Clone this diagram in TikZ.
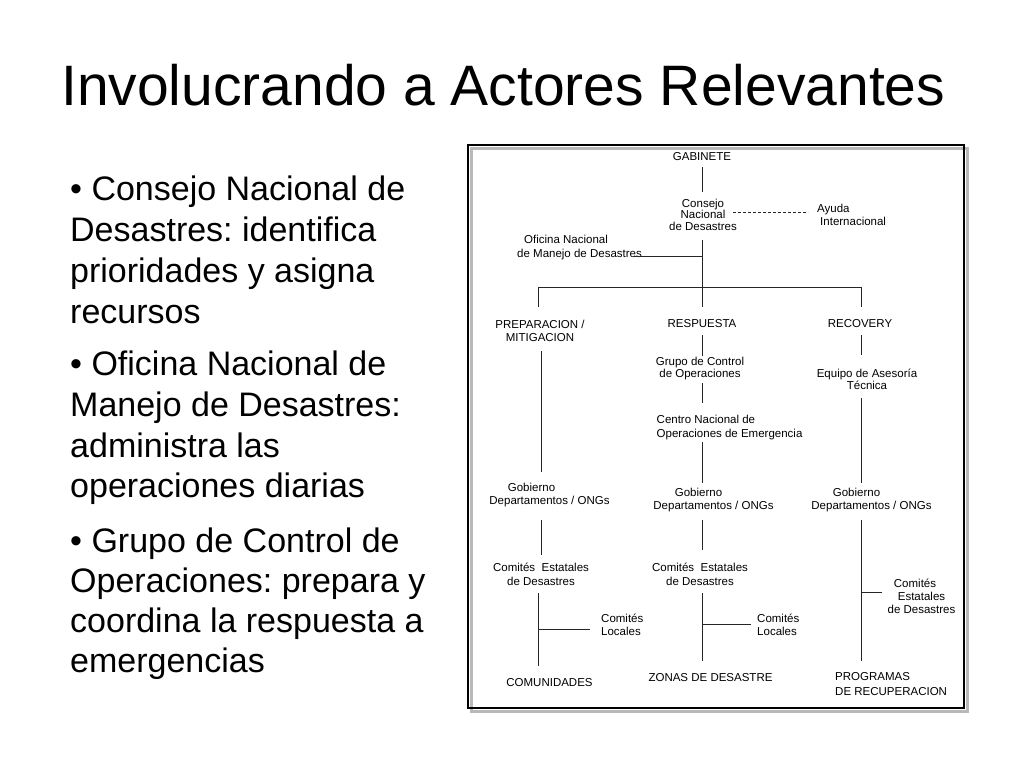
\documentclass[tikz,border=0pt]{standalone}
\usepackage{fontspec}
\setmainfont{Liberation Sans}
\frenchspacing
\begin{document}
\begin{tikzpicture}[x=1pt,y=-1pt,
  ttl/.style={anchor=base west,inner sep=0pt,font=\fontsize{57}{68}\selectfont},
  btxt/.style={anchor=base west,inner sep=0pt,font=\fontsize{34}{41}\selectfont},
  lbl/.style={inner sep=0pt,align=center,font=\fontsize{11.5}{13}\selectfont},
  lbll/.style={inner sep=0pt,align=left,anchor=west,font=\fontsize{11.5}{13}\selectfont},
  conn/.style={draw=black!85,line width=0.9pt},
  dconn/.style={draw=black!85,line width=0.9pt,dash pattern=on 3pt off 2pt}]
\useasboundingbox (0,0) rectangle (1024,768);
\fill[white] (0,0) rectangle (1024,768);

% title
\node[ttl] (title) at (61,105) {Involucrando a Actores Relevantes};

% bullets
\node[btxt] (b1a) at (70,200) {• Consejo Nacional de};
\node[btxt] (b1b) at (70,241) {Desastres: identifica};
\node[btxt] (b1c) at (70,282) {prioridades y asigna};
\node[btxt] (b1d) at (70,323) {recursos};
\node[btxt] (b2a) at (70,375) {• Oficina Nacional de};
\node[btxt] (b2b) at (70,416) {Manejo de Desastres:};
\node[btxt] (b2c) at (70,457) {administra las};
\node[btxt] (b2d) at (70,497) {operaciones diarias};
\node[btxt] (b3a) at (70,552) {• Grupo de Control de};
\node[btxt] (b3b) at (70,592) {Operaciones: prepara y};
\node[btxt] (b3c) at (70,632) {coordina la respuesta a};
\node[btxt] (b3d) at (70,672) {emergencias};

% frame
\draw[gray!55,line width=3pt] (471,148) rectangle (967,711);
\draw[black,line width=2pt] (468,145) rectangle (964,708);

% labels
\node[lbl] (gab) at (702,157) {GABINETE};
\node[lbl,font=\fontsize{11.5}{11.5}\selectfont] (cons) at (703,214.5) {Consejo\\Nacional\\de Desastres};
\node[lbll] (ayuda) at (817,215) {Ayuda\\\hspace*{3pt}Internacional};
\node[lbll,font=\fontsize{11.5}{14}\selectfont] (ofi) at (517,248) {\hspace*{7pt}Oficina Nacional\\de Manejo de Desastres};
\node[lbl] (prep) at (540,330.5) {PREPARACION /\\MITIGACION};
\node[lbl] (resp) at (702,324) {RESPUESTA};
\node[lbl] (recov) at (860,324) {RECOVERY};
\node[lbl,font=\fontsize{11.5}{11.5}\selectfont] (grupo) at (700,368.5) {Grupo de Control\\de Operaciones};
\node[lbll,font=\fontsize{11.5}{14}\selectfont] (centro) at (656.5,428) {Centro Nacional de\\Operaciones de Emergencia};
\node[lbl,font=\fontsize{11.5}{12}\selectfont] (equipo) at (867,379) {Equipo de Asesoría\\Técnica};
\node[lbl] (gob1) at (549.5,495.5) {Gobierno\hspace*{36pt}\\Departamentos / ONGs};
\node[lbl] (gob2) at (713.5,500.5) {Gobierno\hspace*{30pt}\\Departamentos / ONGs};
\node[lbl] (gob3) at (871.5,500.5) {Gobierno\hspace*{30pt}\\Departamentos / ONGs};
\node[lbl,font=\fontsize{11.5}{14}\selectfont] (ce1) at (541,574) {Comités~ Estatales\\de Desastres};
\node[lbl,font=\fontsize{11.5}{14}\selectfont] (ce2) at (700,574) {Comités~ Estatales\\de Desastres};
\node[lbl] (ce3) at (921.5,596) {Comités\hspace*{13pt}\\Estatales\\de Desastres};
\node[lbll] (cl1) at (601,624.5) {Comités\\Locales};
\node[lbll] (cl2) at (757,624.5) {Comités\\Locales};
\node[lbl] (comu) at (549.5,683) {COMUNIDADES};
\node[lbl] (zonas) at (710.5,678) {ZONAS DE DESASTRE};
\node[lbll,font=\fontsize{11.5}{15}\selectfont] (prog) at (835,684.5) {PROGRAMAS\\DE RECUPERACION};

% connector end points
\coordinate (gabS) at (702,167);
\coordinate (consN) at (702,192);
\coordinate (consE) at (733,212);
\coordinate (ayudaW) at (808,212);
\coordinate (consS) at (702,240);
\coordinate (ofiE) at (633,256);
\coordinate (ofiJ) at (702,256);
\coordinate (barM) at (702,287);
\coordinate (barL) at (538,287);
\coordinate (barR) at (861,287);
\coordinate (prepN) at (538,307);
\coordinate (respN) at (702,307);
\coordinate (recovN) at (861,307);
\coordinate (prepS) at (541,351);
\coordinate (gob1N) at (541,472);
\coordinate (respS) at (702,335);
\coordinate (grupoN) at (702,356);
\coordinate (grupoS) at (702,383);
\coordinate (centroN) at (702,403);
\coordinate (centroS) at (702,442);
\coordinate (gob2N) at (702,483);
\coordinate (recovS) at (861,335);
\coordinate (equipoN) at (861,355);
\coordinate (equipoS) at (861,398);
\coordinate (gob3N) at (861,483);
\coordinate (gob1S) at (541,520);
\coordinate (ce1N) at (541,555);
\coordinate (ce1S) at (538,593);
\coordinate (ce1J) at (538,629);
\coordinate (cl1W) at (590,629);
\coordinate (comuN) at (538,666);
\coordinate (gob2S) at (702,520);
\coordinate (ce2N) at (702,550);
\coordinate (ce2S) at (702,593);
\coordinate (ce2J) at (702,624);
\coordinate (cl2W) at (751,624);
\coordinate (zonasN) at (702,661);
\coordinate (gob3S) at (861,520);
\coordinate (ce3J) at (861,592);
\coordinate (ce3W) at (882,592);
\coordinate (progN) at (861,661);

% connectors
\draw[conn] (gabS) -- (consN);
\draw[dconn] (consE) -- (ayudaW);
\draw[conn] (consS) -- (barM);
\draw[conn] (ofiE) -- (ofiJ);
\draw[conn] (prepN) -- (barL) -- (barR) -- (recovN);
\draw[conn] (barM) -- (respN);
\draw[conn] (prepS) -- (gob1N);
\draw[conn] (respS) -- (grupoN);
\draw[conn] (grupoS) -- (centroN);
\draw[conn] (centroS) -- (gob2N);
\draw[conn] (recovS) -- (equipoN);
\draw[conn] (equipoS) -- (gob3N);
\draw[conn] (gob1S) -- (ce1N);
\draw[conn] (ce1S) -- (comuN);
\draw[conn] (ce1J) -- (cl1W);
\draw[conn] (gob2S) -- (ce2N);
\draw[conn] (ce2S) -- (zonasN);
\draw[conn] (ce2J) -- (cl2W);
\draw[conn] (gob3S) -- (progN);
\draw[conn] (ce3J) -- (ce3W);
\end{tikzpicture}
\end{document}
